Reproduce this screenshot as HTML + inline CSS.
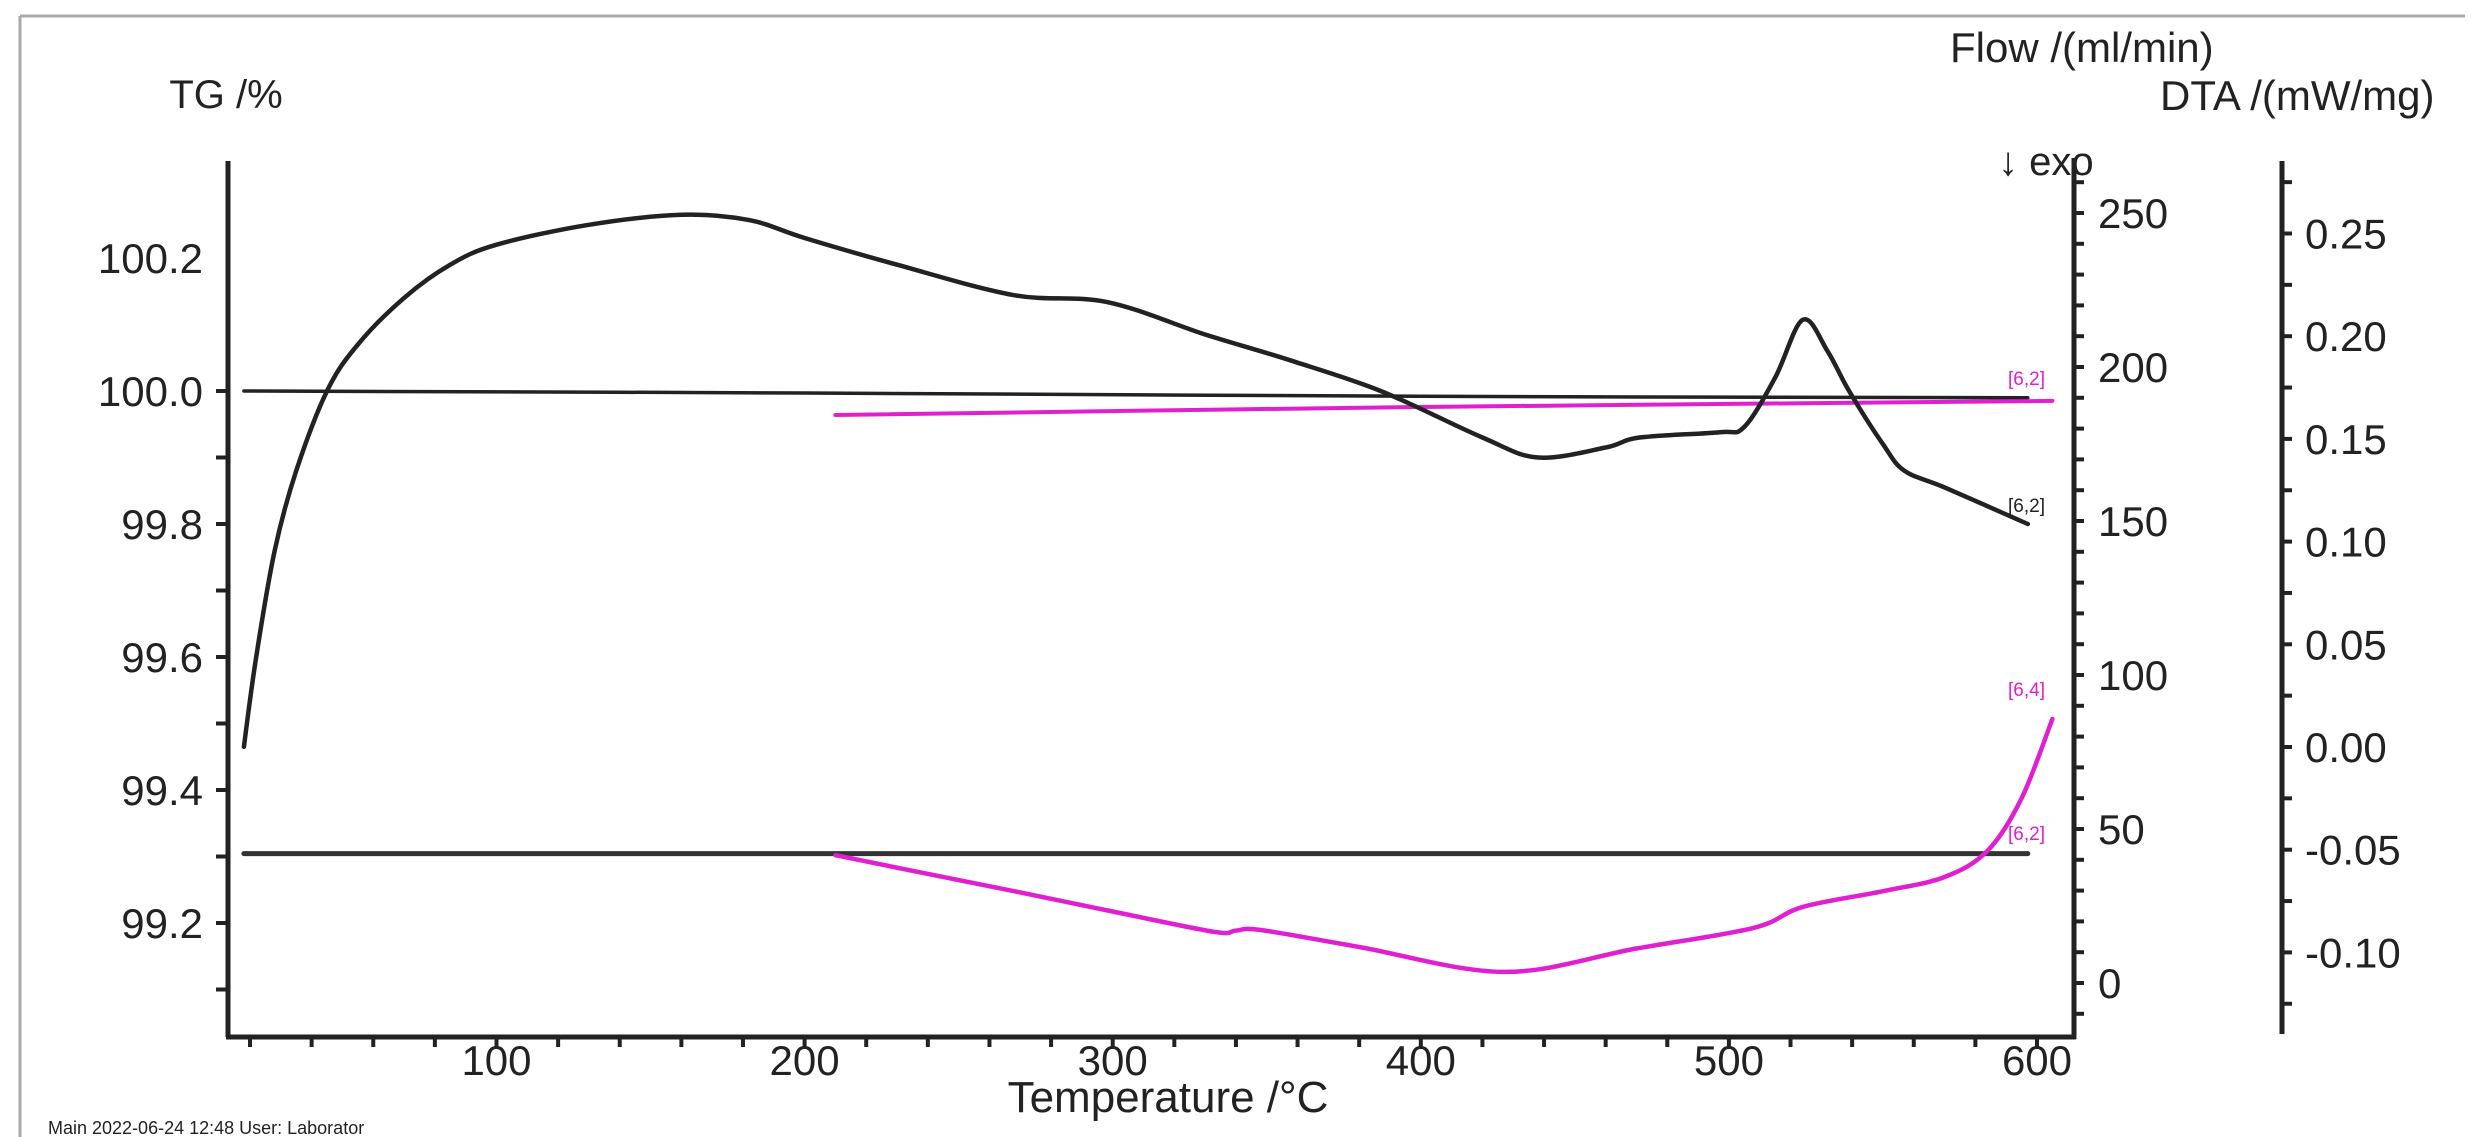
<!DOCTYPE html>
<html><head><meta charset="utf-8"><style>
html,body{margin:0;padding:0;background:#fff;}
svg{display:block;}
text{font-family:"Liberation Sans",Arial,sans-serif;fill:#222;}
</style></head><body>
<svg id="chart" width="2479" height="1137" viewBox="0 0 2479 1137" xmlns="http://www.w3.org/2000/svg">
<rect width="2479" height="1137" fill="#fff"/>
<line x1="20" y1="16" x2="2465" y2="16" stroke="#aaa" stroke-width="3"/>
<line x1="20" y1="16" x2="20" y2="1137" stroke="#aaa" stroke-width="3"/>
<g id="axes"></g>
<g id="series"></g>
<text x="226" y="108" font-size="40" text-anchor="middle">TG /%</text>
<text x="1950" y="62" font-size="42">Flow /(ml/min)</text>
<text x="2160" y="110" font-size="42">DTA /(mW/mg)</text>
<text x="1998" y="175" font-size="40">↓ exo</text>
<text x="1168" y="1112" font-size="44" text-anchor="middle">Temperature /°C</text>
<text x="48" y="1134" font-size="18">Main    2022-06-24 12:48    User: Laborator</text>
<text x="2008" y="385" font-size="19" style="fill:#e020d0">[6,2]</text>
<text x="2008" y="512" font-size="19">[6,2]</text>
<text x="2008" y="696" font-size="19" style="fill:#e020d0">[6,4]</text>
<text x="2008" y="840" font-size="19" style="fill:#e020d0">[6,2]</text>
</svg>
<script>
// ---- data ----
const tgTemp = [18,22,28,35,45,55,70,85,100,130,160,182,200,230,268,298,330,357,387,420,438,460,471,497,505,515,524,532,539,550,557,570,597];
const tgValue = [99.465,99.60,99.76,99.88,100.0,100.07,100.14,100.19,100.22,100.25,100.265,100.257,100.23,100.19,100.144,100.134,100.085,100.047,100.0,99.93,99.90,99.915,99.93,99.938,99.946,100.02,100.107,100.06,100.0,99.92,99.88,99.855,99.80];
const tgBaseTemp = [18,200,400,597];
const tgBaseValue = [100.0,99.997,99.992,99.99];
const flowTemp = [18,597];
const flowValue = [42,42];
const dtaBaseTemp = [210,400,605];
const dtaBaseValue = [184.4,187,189];
const dtaTemp = [210,250,270,300,333,340,348,380,427,470,508,524,550,570,584,595,605];
const dtaValue = [41.5,33.4,29.4,23.2,16.6,17.0,17.2,11.7,3.6,11.2,17.9,24.7,29.8,34.4,43,60,85.7];
const xTicks = [100,200,300,400,500,600];
const tgTicks = [99.2,99.4,99.6,99.8,100.0,100.2];
const flowTicks = [0,50,100,150,200,250];
const dtaTicks = [-0.10,-0.05,0.00,0.05,0.10,0.15,0.20,0.25];
// ---- scales ----
const xS = t => 188.4 + 3.081*t;
const tgS = v => 391 - (v-100)*665;
const flowS = v => 983 - v*3.08;
const dtaS = v => 747 - v*2054;
const NS='http://www.w3.org/2000/svg';
const axes=document.getElementById('axes'), series=document.getElementById('series');
function mk(tag,attrs,parent){const e=document.createElementNS(NS,tag);for(const k in attrs)e.setAttribute(k,attrs[k]);parent.appendChild(e);return e;}
function ln(x1,y1,x2,y2,w,parent){return mk('line',{x1,y1,x2,y2,stroke:'#222','stroke-width':w},parent);}
let a;
a=ln(228,161,228,1037,5,axes);


a=ln(226,1037,2076,1037,5,axes);


a=ln(2074,158,2074,1039,5,axes);


a=ln(2282,161,2282,1034,5,axes);


for(let t=20;t<=600;t+=20){const X=xS(t);a=ln(X,1037,X,1047,4,axes);

}
xTicks.forEach(t=>{const e=mk('text',{x:xS(t),y:1075,'font-size':42,'text-anchor':'middle'},axes);e.textContent=t;

});
for(let i=0;i<10;i++){const v=99.1+i*0.1;const Y=tgS(v);a=ln(216,Y,228,Y,4,axes);

}
tgTicks.forEach(v=>{const e=mk('text',{x:203,y:tgS(v)+15,'font-size':42,'text-anchor':'end'},axes);e.textContent=v.toFixed(1);

});
for(let v=-10;v<=260;v+=10){const Y=flowS(v);if(Y<160||Y>1036)continue;a=ln(2074,Y,2084,Y,4,axes);

}
flowTicks.forEach(v=>{const e=mk('text',{x:2098,y:flowS(v)+15,'font-size':42},axes);e.textContent=v;

});
for(let i=-6;i<=11;i++){const v=i*0.025;const Y=dtaS(v);if(Y<163||Y>1032)continue;a=ln(2282,Y,2292,Y,4,axes);

}
dtaTicks.forEach(v=>{const e=mk('text',{x:2305,y:dtaS(v)+15,'font-size':42},axes);e.textContent=v.toFixed(2);

});
function path(ts,vs,ys,color,w,name){
  const P=ts.map((t,i)=>[xS(t),ys(vs[i])]);
  let d='M'+P[0][0].toFixed(1)+' '+P[0][1].toFixed(1);
  for(let i=0;i<P.length-1;i++){
    const p0=P[Math.max(i-1,0)],p1=P[i],p2=P[i+1],p3=P[Math.min(i+2,P.length-1)];
    const c1=[p1[0]+(p2[0]-p0[0])/6,p1[1]+(p2[1]-p0[1])/6];
    const c2=[p2[0]-(p3[0]-p1[0])/6,p2[1]-(p3[1]-p1[1])/6];
    d+=' C'+c1[0].toFixed(1)+' '+c1[1].toFixed(1)+' '+c2[0].toFixed(1)+' '+c2[1].toFixed(1)+' '+p2[0].toFixed(1)+' '+p2[1].toFixed(1);
  }
  const p=mk('path',{d,fill:'none',stroke:color,'stroke-width':w,'stroke-linejoin':'round','stroke-linecap':'round'},series);
  
  
  return p;}
path(flowTemp,flowValue,flowS,'#333',5,'flow-line');
path(tgBaseTemp,tgBaseValue,tgS,'#222',3.5,'tg-baseline');
path(dtaBaseTemp,dtaBaseValue,flowS,'#e020d0',4,'dta-baseline');
path(dtaTemp,dtaValue,flowS,'#e020d0',4.5,'dta-curve');
path(tgTemp,tgValue,tgS,'#222',4.5,'tg-curve');
</script>
</body></html>
